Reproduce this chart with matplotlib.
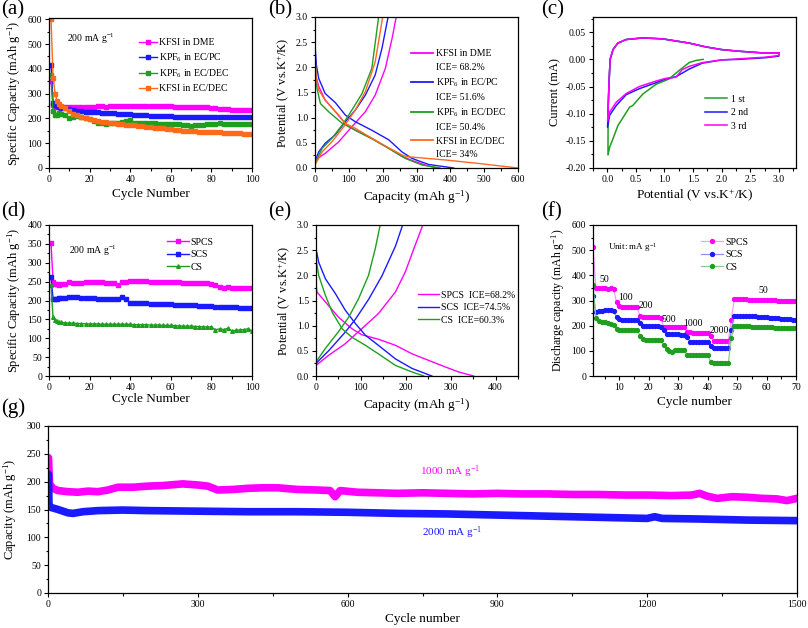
import numpy as np
import matplotlib
matplotlib.use('Agg')
import matplotlib.pyplot as plt
from matplotlib.ticker import MultipleLocator, FormatStrFormatter
from matplotlib.lines import Line2D

plt.rcParams['font.family'] = ['Liberation Serif', 'DejaVu Serif']
plt.rcParams['mathtext.fontset'] = 'custom'
plt.rcParams['mathtext.rm'] = 'Liberation Serif'
plt.rcParams['mathtext.it'] = 'Liberation Serif:italic'
plt.rcParams['mathtext.bf'] = 'Liberation Serif:bold'
plt.rcParams['axes.linewidth'] = 0.9

MAG = '#ff00ff'; BLU = '#1a1aff'; GRN = '#1f9f1f'; ORG = '#ff6a1a'
LMAG = '#ff99ff'; LBLU = '#8f8fff'; LGRN = '#88cc88'

# ---------------- (a) cycling in different electrolytes ----------------
cyc_a = [1, 2, 3, 4, 5] + list(range(6, 101, 2))
a_dme = [352, 255, 250, 247, 246,
         245, 246, 247, 246, 247, 248, 248, 247,
         248, 249, 249, 248, 249, 250, 249, 250, 249, 251,
         251, 252, 252, 251, 251, 250, 250, 250, 249, 249,
         248, 248, 248, 247, 247, 246, 246, 246, 247, 244,
         240, 238, 237, 236, 235, 234, 234, 233, 232, 232]
a_pc = [415, 262, 255, 250, 247,
        244, 240, 236, 233, 231, 229, 227, 226,
        225, 224, 223, 222, 221, 220, 219, 218, 217, 216,
        215, 214, 213, 212, 211, 210, 210, 209, 208, 208,
        207, 207, 206, 206, 206, 206, 206, 206, 207, 207,
        207, 207, 207, 207, 207, 207, 207, 207, 207, 207]
a_dec6 = [375, 228, 212, 215, 220,
          218, 212, 203, 205, 208, 205, 200, 196,
          190, 183, 180, 179, 180, 182, 183, 185, 190, 192,
          183, 180, 180, 181, 180, 180, 179, 178, 176, 177,
          178, 176, 173, 172, 171, 172, 174, 175, 176, 178,
          178, 180, 178, 177, 178, 178, 179, 178, 177, 178]
a_fsidec = [602, 365, 300, 272, 260,
            252, 240, 228, 218, 212, 207, 200, 196,
            192, 190, 187, 184, 182, 180, 178, 176, 175, 174,
            172, 170, 168, 166, 165, 163, 161, 160, 158, 156,
            154, 153, 151, 150, 149, 148, 146, 145, 145, 146,
            145, 144, 143, 142, 141, 140, 140, 139, 138, 138]
a_labels = ['KFSI in DME', 'KPF$_6$ in EC/PC', 'KPF$_6$ in EC/DEC', 'KFSI in EC/DEC']

# ---------------- (b) charge/discharge profiles ----------------
b_dme_dis_c = [0, 1, 2, 11, 30, 60, 90, 119, 168, 218, 257, 287, 330, 360]
b_dme_dis_v = [2.3, 2.05, 1.85, 1.62, 1.35, 1.12, 0.88, 0.75, 0.59, 0.39, 0.23, 0.15, 0.05, 0.0]
b_dme_chg_c = [0, 10, 30, 70, 109, 149, 178, 208, 228, 240]
b_dme_chg_v = [0.09, 0.2, 0.29, 0.52, 0.82, 1.12, 1.45, 1.98, 2.58, 3.0]
b_pc_dis_c = [0, 1, 4, 11, 30, 60, 90, 119, 168, 218, 257, 287, 336, 410]
b_pc_dis_v = [2.6, 2.35, 2.05, 1.78, 1.48, 1.30, 1.05, 0.92, 0.75, 0.56, 0.32, 0.19, 0.07, 0.0]
b_pc_chg_c = [0, 11, 30, 60, 90, 119, 149, 178, 198, 216]
b_pc_chg_v = [0.13, 0.32, 0.49, 0.66, 0.92, 1.15, 1.45, 1.85, 2.38, 3.0]
b_dec6_dis_c = [0, 1, 3, 6, 16, 40, 80, 119, 168, 218, 267, 316, 370]
b_dec6_dis_v = [2.4, 2.1, 1.8, 1.58, 1.28, 1.12, 0.89, 0.75, 0.58, 0.39, 0.19, 0.06, 0.0]
b_dec6_chg_c = [0, 21, 50, 80, 109, 139, 168, 188]
b_dec6_chg_v = [0.09, 0.39, 0.59, 0.85, 1.15, 1.48, 1.98, 3.0]
b_fsi_dis_c = [0, 1, 3, 11, 30, 70, 90, 119, 168, 218, 257, 272, 385, 484, 600]
b_fsi_dis_v = [2.44, 2.1, 1.8, 1.55, 1.35, 1.05, 0.88, 0.79, 0.59, 0.40, 0.26, 0.225, 0.16, 0.09, 0.0]
b_fsi_chg_c = [0, 21, 50, 85, 119, 149, 178, 200]
b_fsi_chg_v = [0.06, 0.32, 0.52, 0.82, 1.15, 1.52, 2.11, 3.0]
b_ice = ['ICE= 68.2%', 'ICE= 51.6%', 'ICE= 50.4%', 'ICE= 34%']

# ---------------- (c) CV ----------------
c1_v = [1.676, 1.55, 1.43, 1.25, 1.08, 0.85, 0.62, 0.445, 0.39, 0.30, 0.185, 0.10, 0.04, 0.012]
c1_i = [0.0, -0.002, -0.006, -0.021, -0.036, -0.046, -0.064, -0.085, -0.088, -0.103, -0.122, -0.146, -0.162, -0.176]
c2_v = [3.0, 3.0, 2.76, 2.3, 2.0, 1.66, 1.43, 1.2, 1.02, 0.85, 0.56, 0.33, 0.156, 0.04, 0.005]
c2_i = [0.012, 0.006, 0.003, 0.0, -0.001, -0.007, -0.018, -0.032, -0.036, -0.043, -0.054, -0.065, -0.085, -0.103, -0.125]
c3_v = [3.0, 3.0, 2.76, 2.3, 2.0, 1.66, 1.43, 1.31, 1.2, 1.02, 0.85, 0.56, 0.33, 0.156, 0.04, 0.005]
c3_i = [0.012, 0.007, 0.004, 0.001, -0.001, -0.006, -0.013, -0.019, -0.033, -0.035, -0.040, -0.050, -0.063, -0.079, -0.097, -0.114]
an_v = [0.015, 0.03, 0.05, 0.10, 0.185, 0.33, 0.62, 0.97, 1.43, 1.72, 2.0, 2.3, 2.7, 3.0]
an_i = [-0.09, -0.043, 0.0, 0.018, 0.030, 0.0365, 0.0395, 0.0377, 0.030, 0.023, 0.018, 0.015, 0.012, 0.012]
c_labels = ['1 st', '2 nd', '3 rd']

# ---------------- (d) cycling of SPCS / SCS / CS ----------------
cyc_d = [1, 2, 3, 4, 5] + list(range(6, 101, 2))
d_spcs = [352, 250, 245, 243, 242,
          243, 245, 248, 246, 246, 247, 248, 248,
          248, 248, 248, 247, 247, 247, 240, 250, 250, 251,
          251, 252, 251, 251, 250, 250, 250, 249, 249, 248,
          248, 248, 247, 247, 247, 247, 247, 247, 246, 244,
          240, 236, 234, 236, 234, 234, 233, 233, 232, 232]
d_scs = [262, 205, 205, 205, 206,
         207, 207, 208, 208, 208, 207, 207, 206,
         206, 205, 205, 204, 204, 203, 203, 210, 205, 193,
         193, 193, 193, 193, 192, 192, 191, 191, 190, 190,
         189, 189, 188, 188, 187, 187, 186, 186, 185, 185,
         184, 184, 183, 183, 182, 182, 181, 181, 180, 180]
d_cs = [240, 155, 148, 145, 143,
        142, 141, 140, 140, 139, 139, 138, 138,
        138, 138, 137, 137, 137, 137, 137, 137, 137, 137,
        136, 136, 136, 136, 135, 135, 135, 134, 134, 134,
        133, 133, 132, 132, 132, 131, 131, 130, 130, 130,
        122, 125, 123, 126, 120, 121, 122, 123, 125, 120]
d_labels = ['SPCS', 'SCS', 'CS']

# ---------------- (e) profiles SPCS / SCS / CS ----------------
e_spcs_dis_c = [0, 1, 2, 21, 50, 80, 102, 139, 177, 214, 251, 288, 318, 351]
e_spcs_dis_v = [1.97, 1.75, 1.67, 1.47, 1.17, 0.94, 0.82, 0.73, 0.61, 0.44, 0.31, 0.18, 0.08, 0.0]
e_spcs_chg_c = [0, 28, 65, 102, 139, 177, 199, 221, 238]
e_spcs_chg_v = [0.21, 0.41, 0.64, 0.94, 1.24, 1.67, 2.07, 2.6, 3.0]
e_scs_dis_c = [0, 6, 21, 43, 65, 88, 110, 139, 177, 214, 258]
e_scs_dis_v = [2.53, 2.26, 1.93, 1.64, 1.31, 1.04, 0.81, 0.61, 0.34, 0.15, 0.0]
e_scs_chg_c = [0, 28, 65, 88, 117, 147, 177, 193]
e_scs_chg_v = [0.25, 0.5, 0.87, 1.13, 1.52, 1.99, 2.58, 3.0]
e_cs_dis_c = [0, 6, 21, 36, 58, 80, 110, 139, 177, 214, 240]
e_cs_dis_v = [2.33, 2.0, 1.6, 1.27, 0.94, 0.77, 0.61, 0.44, 0.21, 0.08, 0.0]
e_cs_chg_c = [0, 21, 50, 73, 95, 117, 132, 143]
e_cs_chg_v = [0.28, 0.55, 0.88, 1.17, 1.54, 2.0, 2.53, 3.0]
e_labels = ['SPCS  ICE=68.2%', 'SCS  ICE=74.5%', 'CS  ICE=60.3%']

# ---------------- (f) rate capability ----------------
cyc_f = list(range(1, 71))
f_spcs = [513, 349, 348, 348, 349, 347, 348, 346,
          293, 277, 276, 276, 275, 275, 274, 273,
          237, 233, 233, 234, 233, 233, 233, 232,
          195, 193, 193, 193, 194, 194, 193, 193,
          175, 173, 172, 172, 172, 171, 171, 171,
          157, 140, 139, 139, 139, 139, 140,
          224, 304, 305, 305, 304, 304, 303, 303, 303, 302, 302, 302,
          301, 301, 301, 301, 300, 300, 300, 300, 300, 299, 299]
f_scs = [317, 253, 258, 260, 263, 263, 262, 259,
         233, 225, 224, 224, 224, 223, 223, 222,
         209, 198, 197, 197, 197, 197, 197, 196,
         183, 168, 167, 167, 166, 165, 164, 163,
         153, 137, 137, 136, 136, 136, 135, 135,
         120, 112, 111, 111, 111, 111, 111,
         183, 240, 240, 240, 239, 239, 238, 238, 237, 236, 235,
         234, 233, 232, 231, 230, 229, 228, 227, 226, 225, 224, 223]
f_cs = [363, 229, 220, 216, 213, 211, 207, 203,
        187, 184, 183, 183, 183, 183, 183, 184,
        160, 147, 145, 144, 143, 143, 142, 142,
        123, 107, 100, 96, 105, 104, 104, 103,
        83, 82, 82, 82, 82, 82, 82, 82,
        57, 52, 51, 51, 51, 51, 51,
        150, 200, 198, 198, 197, 197, 197, 196, 196, 195, 195, 194,
        194, 193, 193, 192, 192, 191, 191, 190, 190, 189, 189]
f_rate_labels = ['50', '100', '200', '500', '1000', '2000', '50']
f_rate_pos = [(4.8, 384), (12.0, 313), (18.9, 279), (26.8, 226), (35.0, 208), (44.0, 182), (59.0, 341)]

# ---------------- (g) long-term cycling ----------------
g1_cyc = [1, 3, 10, 20, 40, 60, 80, 100, 120, 140, 170, 200, 230, 270, 300, 320, 340, 370,
          400, 430, 460, 500, 540, 565, 575, 585, 620, 660, 700, 750, 800, 850, 900, 950,
          1000, 1050, 1100, 1150, 1200, 1250, 1290, 1305, 1320, 1340, 1370, 1400, 1430,
          1460, 1480, 1500]
g1_cap = [243, 196, 188, 184, 182, 181, 183, 182, 185, 190, 190, 192, 193, 196, 194, 192, 185, 186,
          188, 189, 189, 186, 185, 184, 173, 184, 181, 180, 179, 180, 179, 178, 179, 178,
          178, 177, 177, 176, 176, 175, 176, 179, 174, 170, 173, 172, 170,
          169, 166, 170]
g2_cyc = [1, 2, 5, 20, 40, 50, 70, 100, 150, 200, 300, 400, 500, 600, 700, 800, 900, 1000,
          1100, 1200, 1215, 1230, 1300, 1400, 1500]
g2_cap = [213, 155, 154, 150, 144, 143, 146, 148, 149, 148, 147, 146, 146, 145, 143, 142, 140, 138,
          136, 134, 137, 134, 133, 131, 130]

W, H = 808, 628
fig = plt.figure(figsize=(W / 100, H / 100), dpi=100)


def add_ax(l, r, t, b):
    return fig.add_axes([l / W, 1 - b / H, (r - l) / W, (b - t) / H])


def style(ax, xlim, ylim, xmaj, ymaj, xmin, ymin, xfmt=None, yfmt=None):
    ax.set_xlim(xlim)
    ax.set_ylim(ylim)
    ax.xaxis.set_major_locator(MultipleLocator(xmaj))
    ax.yaxis.set_major_locator(MultipleLocator(ymaj))
    ax.xaxis.set_minor_locator(MultipleLocator(xmin))
    ax.yaxis.set_minor_locator(MultipleLocator(ymin))
    if xfmt:
        ax.xaxis.set_major_formatter(FormatStrFormatter(xfmt))
    if yfmt:
        ax.yaxis.set_major_formatter(FormatStrFormatter(yfmt))
    ax.tick_params(which='both', direction='out', labelsize=7, width=0.8, pad=2,
                   top=False, right=False)
    ax.tick_params(which='major', length=3)
    ax.tick_params(which='minor', length=1.8)


XLFS = 9.5
YLFS = 9
LEGFS = 7

# (a)
ax = add_ax(49, 252, 18, 168)
style(ax, (0, 100), (0, 605), 20, 100, 10, 50)
for y, c, lab in zip([a_dme, a_pc, a_dec6, a_fsidec], [MAG, BLU, GRN, ORG], a_labels):
    ax.plot(cyc_a, y, color=c, lw=1.0, marker='s', ms=2.6, mec=c, label=lab)
ax.set_xlabel('Cycle Number', fontsize=XLFS, labelpad=3)
ax.set_ylabel('Specific Capacity (mAh g$^{-1}$)', fontsize=YLFS, labelpad=3)
ax.text(0.09, 0.86, '200 mA g$^{-1}$', transform=ax.transAxes, fontsize=LEGFS, va='center')
ax.legend(loc='upper left', bbox_to_anchor=(0.41, 0.91), frameon=False, fontsize=LEGFS,
          handlelength=1.8, labelspacing=0.4, handletextpad=0.3, borderpad=0.2)

# (b)
ax = add_ax(315, 518, 17, 168)
style(ax, (0, 600), (0, 3.0), 100, 0.5, 50, 0.25, yfmt='%.1f')
b_sets = [(b_dme_dis_c, b_dme_dis_v, b_dme_chg_c, b_dme_chg_v, MAG),
          (b_pc_dis_c, b_pc_dis_v, b_pc_chg_c, b_pc_chg_v, BLU),
          (b_dec6_dis_c, b_dec6_dis_v, b_dec6_chg_c, b_dec6_chg_v, GRN),
          (b_fsi_dis_c, b_fsi_dis_v, b_fsi_chg_c, b_fsi_chg_v, ORG)]
hs, ls = [], []
for (dc, dv, cc, cv, col), lab, ice in zip(b_sets, a_labels, b_ice):
    ax.plot(dc, dv, color=col, lw=1.0)
    ax.plot(cc, cv, color=col, lw=1.0)
    hs += [Line2D([], [], color=col, lw=1.3), Line2D([], [], color='none')]
    ls += [lab, ice]
ax.set_xlabel('Capacity (mAh g$^{-1}$)', fontsize=XLFS, labelpad=3)
ax.set_ylabel('Potential (V vs.K$^{+}$/K)', fontsize=YLFS, labelpad=3)
ax.legend(hs, ls, loc='upper left', bbox_to_anchor=(0.44, 0.83), frameon=False, fontsize=LEGFS,
          handlelength=2.2, labelspacing=0.45, handletextpad=0.4, borderpad=0.2)

# (c)
ax = add_ax(593, 796, 17, 168)
style(ax, (-0.25, 3.3), (-0.2, 0.078), 0.5, 0.05, 0.25, 0.025, xfmt='%.1f', yfmt='%.2f')
ax.plot(c1_v + an_v, c1_i + an_i, color=GRN, lw=1.1, label=c_labels[0])
ax.plot(c2_v + an_v, c2_i + an_i, color=BLU, lw=1.1, label=c_labels[1])
ax.plot(c3_v + an_v, c3_i + an_i, color=MAG, lw=1.1, label=c_labels[2])
ax.set_xlabel('Potential (V vs.K$^{+}$/K)', fontsize=XLFS, labelpad=3)
ax.set_ylabel('Current (mA)', fontsize=YLFS, labelpad=3)
ax.legend(loc='upper left', bbox_to_anchor=(0.52, 0.53), frameon=False, fontsize=LEGFS,
          handlelength=2.2, labelspacing=0.45, handletextpad=0.4, borderpad=0.2)

# (d)
ax = add_ax(49, 252, 225, 376)
style(ax, (0, 100), (0, 400), 20, 50, 10, 25)
for y, c, m, lab in zip([d_spcs, d_scs, d_cs], [MAG, BLU, GRN], ['s', 's', '^'], d_labels):
    ax.plot(cyc_d, y, color=c, lw=1.0, marker=m, ms=2.6, mec=c, label=lab)
ax.set_xlabel('Cycle Number', fontsize=XLFS, labelpad=1)
ax.set_ylabel('Specific Capacity (mAh g$^{-1}$)', fontsize=YLFS, labelpad=3)
ax.text(0.10, 0.83, '200 mA g$^{-1}$', transform=ax.transAxes, fontsize=LEGFS, va='center')
ax.legend(loc='upper left', bbox_to_anchor=(0.55, 0.96), frameon=False, fontsize=LEGFS,
          handlelength=2.2, labelspacing=0.35, handletextpad=0.2, borderpad=0.2)

# (e)
ax = add_ax(316, 518, 225, 376)
style(ax, (0, 450), (0, 3.0), 100, 0.5, 50, 0.25, yfmt='%.1f')
e_sets = [(e_spcs_dis_c, e_spcs_dis_v, e_spcs_chg_c, e_spcs_chg_v, MAG),
          (e_scs_dis_c, e_scs_dis_v, e_scs_chg_c, e_scs_chg_v, BLU),
          (e_cs_dis_c, e_cs_dis_v, e_cs_chg_c, e_cs_chg_v, GRN)]
for (dc, dv, cc, cv, col), lab in zip(e_sets, e_labels):
    ax.plot(dc, dv, color=col, lw=1.0, label=lab)
    ax.plot(cc, cv, color=col, lw=1.0)
ax.set_xlabel('Capacity (mAh g$^{-1}$)', fontsize=XLFS, labelpad=3)
ax.set_ylabel('Potential (V vs.K$^{+}$/K)', fontsize=YLFS, labelpad=3)
ax.legend(loc='upper left', bbox_to_anchor=(0.47, 0.61), frameon=False, fontsize=LEGFS,
          handlelength=2.2, labelspacing=0.35, handletextpad=0.2, borderpad=0.2)

# (f)
ax = add_ax(593, 796, 225, 376)
style(ax, (1, 70), (0, 600), 10, 100, 5, 50)
for y, c, lc, lab in zip([f_spcs, f_scs, f_cs], [MAG, BLU, GRN], [LMAG, LBLU, LGRN], d_labels):
    ax.plot(cyc_f, y, color=lc, lw=0.9, marker='o', ms=2.8, mfc=c, mec=c, label=lab)
for t, (x, y) in zip(f_rate_labels, f_rate_pos):
    ax.text(x, y, t, fontsize=LEGFS, ha='center', va='center')
ax.text(0.075, 0.85, 'Unit: mA g$^{-1}$', transform=ax.transAxes, fontsize=LEGFS - 0.5, va='center')
ax.set_xlabel('Cycle number', fontsize=XLFS, labelpad=3)
ax.set_ylabel('Discharge capacity (mAh g$^{-1}$)', fontsize=YLFS - 0.5, labelpad=3)
ax.legend(loc='upper left', bbox_to_anchor=(0.50, 0.96), frameon=False, fontsize=LEGFS,
          handlelength=2.2, labelspacing=0.35, handletextpad=0.3, borderpad=0.2)

# (g)
ax = add_ax(48, 797, 426, 593)
style(ax, (0, 1500), (0, 300), 300, 50, 150, 25)
ax.plot(g1_cyc, g1_cap, color=MAG, lw=5.5, solid_capstyle='round', solid_joinstyle='round')
ax.plot(g2_cyc, g2_cap, color=BLU, lw=5.5, solid_capstyle='round', solid_joinstyle='round')
ax.text(745, 218, '1000 mA g$^{-1}$', color=MAG, fontsize=LEGFS + 1, va='center')
ax.text(749, 108, '2000 mA g$^{-1}$', color=BLU, fontsize=LEGFS + 1, va='center')
ax.set_xlabel('Cycle number', fontsize=XLFS, labelpad=3)
ax.set_ylabel('Capacity (mAh g$^{-1}$)', fontsize=YLFS, labelpad=5)

# panel letters
for t, x, y in [('(a)', 1, 0), ('(b)', 268, 0), ('(c)', 541, 0),
                ('(d)', 1, 202), ('(e)', 268, 202), ('(f)', 541, 202), ('(g)', 1, 398)]:
    fig.text(x / W, 1 - y / H, t, fontsize=15, va='top', ha='left')

fig.savefig('out.png', dpi=100)
